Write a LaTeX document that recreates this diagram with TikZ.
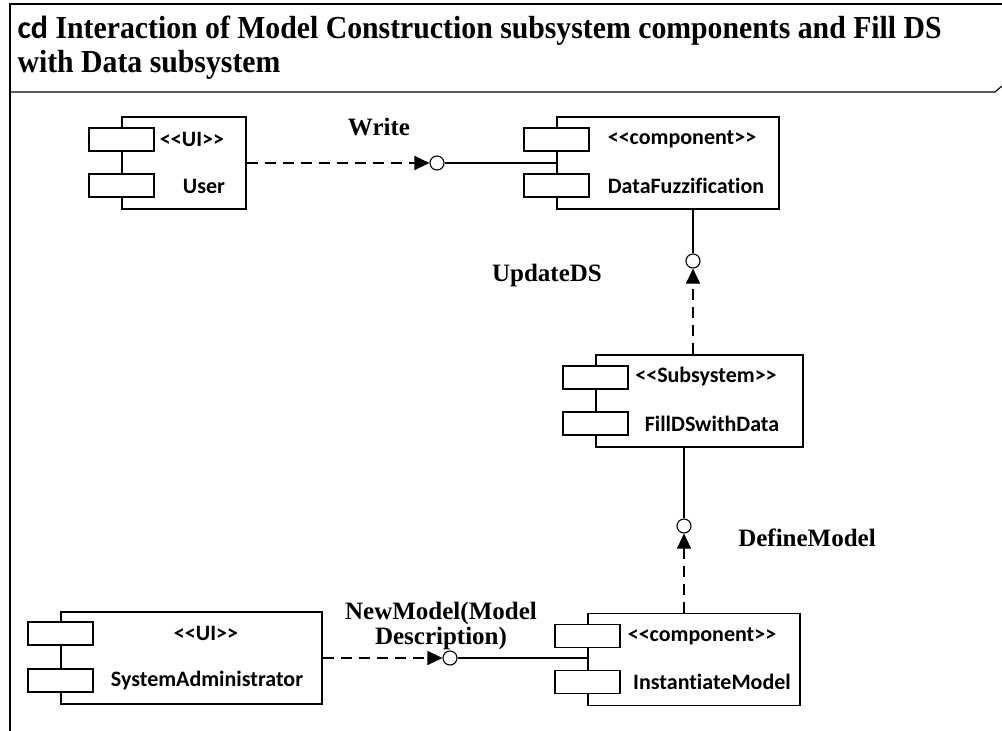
\documentclass[tikz,border=0pt]{standalone}
\usepackage{fontspec}
\setmainfont{Liberation Serif}
\newfontfamily\titlefont[FakeStretch=0.93]{Liberation Serif}
\newfontfamily\compfont[Ligatures={TeXOff,NoCommon}]{Carlito}
\usetikzlibrary{arrows.meta,calc}

\begin{document}
\begin{tikzpicture}[x=1pt, y=-1pt, line width=1.1pt,
    comp/.style={draw, fill=white, inner sep=0pt, minimum height=92pt},
    port/.style={draw, fill=white, minimum width=65pt, minimum height=23pt, inner sep=0pt},
    stereo/.style={font=\compfont\bfseries\fontsize{22}{26}\selectfont, inner sep=0pt},
    lbl/.style={font=\bfseries\fontsize{25}{25}\selectfont, inner sep=0pt},
    lolly/.style={draw, circle, fill=white, minimum size=14pt, inner sep=0pt},
    req/.style={dash pattern=on 11pt off 7pt, -{Triangle[length=15pt,width=14pt]}}]
    \useasboundingbox (0,0) rectangle (1002,731);

    % Frame and title
    \draw (10,731) -- (10,4) -- (1002,4);
    \draw (10,92) -- (995,92) -- (1002,86);
    \node[anchor=north west, align=left, inner sep=0pt,
          font=\titlefont\bfseries\fontsize{32}{34}\selectfont] (title) at (17,15)
        {{\compfont cd} Interaction of Model Construction subsystem components and Fill DS\\with Data subsystem};

    % User
    \node[comp, minimum width=124pt] (user) at (184,163) {};
    \node[port] (user-p1) at ($(user.north west)+(0,23)$) {};
    \node[port] (user-p2) at ($(user.north west)+(0,69)$) {};
    \node[stereo] (user-st) at (192,139) {<<UI>>};
    \node[stereo] (user-nm) at (204,186) {User};

    % DataFuzzification
    \node[comp, minimum width=222pt] (fuzz) at (668,163) {};
    \node[port] (fuzz-p1) at ($(fuzz.north west)+(0,23)$) {};
    \node[port] (fuzz-p2) at ($(fuzz.north west)+(0,69)$) {};
    \node[stereo] (fuzz-st) at (682,139) {<<component>>};
    \node[stereo] (fuzz-nm) at (686,186) {DataFuzzification};

    % FillDSwithData
    \node[comp, minimum width=207pt] (fill) at (699.5,401) {};
    \node[port] (fill-p1) at ($(fill.north west)+(0,23)$) {};
    \node[port] (fill-p2) at ($(fill.north west)+(0,69)$) {};
    \node[stereo] (fill-st) at (706,377) {<<Subsystem>>};
    \node[stereo] (fill-nm) at (712,424) {FillDSwithData};

    % InstantiateModel
    \node[comp, minimum width=212pt] (inst) at (694,659.5) {};
    \node[port] (inst-p1) at ($(inst.north west)+(0,23)$) {};
    \node[port] (inst-p2) at ($(inst.north west)+(0,69)$) {};
    \node[stereo] (inst-st) at (702,636) {<<component>>};
    \node[stereo] (inst-nm) at (712,682) {InstantiateModel};

    % SystemAdministrator
    \node[comp, minimum width=261pt] (admin) at (191.5,658) {};
    \node[port] (admin-p1) at ($(admin.north west)+(0,22)$) {};
    \node[port] (admin-p2) at ($(admin.north west)+(0,69)$) {};
    \node[stereo] (admin-st) at (206,633) {<<UI>>};
    \node[stereo] (admin-nm) at (207,681) {SystemAdministrator};

    % Write
    \node[lolly] (write-o) at (437,163) {};
    \draw[req] (user.east) -- (write-o.west);
    \draw (write-o.east) -- (write-o.east -| fuzz.west);
    \node[lbl] (write-lbl) at (379,127) {Write};

    % UpdateDS
    \node[lolly] (upd-o) at (693,261) {};
    \draw (upd-o.north) -- (upd-o.north |- fuzz.south);
    \draw[req] (upd-o.south |- fill.north) -- (upd-o.south);
    \node[lbl] (upd-lbl) at (547,275) {UpdateDS};

    % DefineModel
    \node[lolly] (def-o) at (684,526) {};
    \draw (def-o.north) -- (def-o.north |- fill.south);
    \draw[req] (def-o.south |- inst.north) -- (def-o.south);
    \node[lbl] (def-lbl) at (807,538) {DefineModel};

    % NewModel(Model Description)
    \node[lolly] (new-o) at (450,658) {};
    \draw[req] (admin.east) -- (new-o.west);
    \draw (new-o.east) -- (new-o.east -| inst.west);
    \node[lbl, align=center] (new-lbl) at (441,626) {NewModel(Model\\Description)};
\end{tikzpicture}
\end{document}
